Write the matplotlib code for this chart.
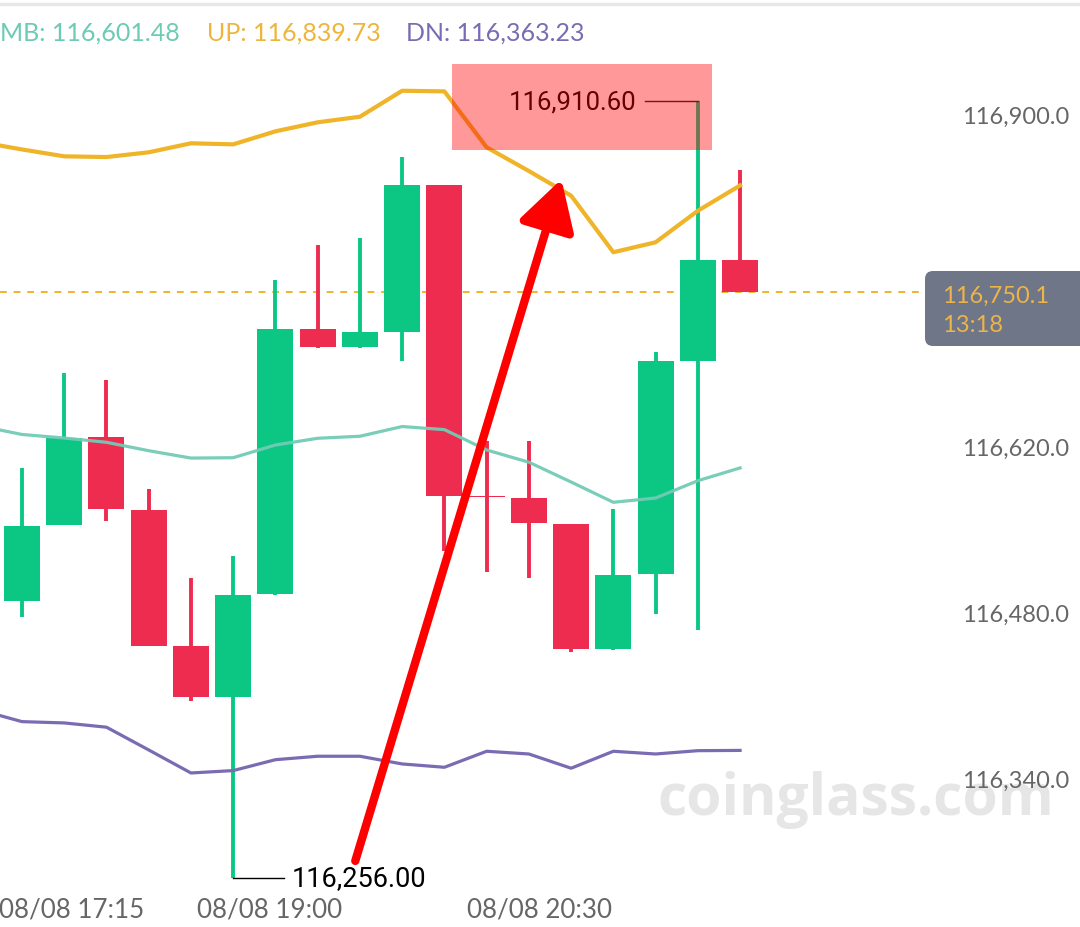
import matplotlib
matplotlib.use("Agg")
import matplotlib.pyplot as plt
from matplotlib.patches import Rectangle, FancyBboxPatch
from matplotlib.lines import Line2D
import matplotlib.ticker as mticker

plt.rcParams['font.family'] = ['Lato', 'DejaVu Sans']

# ---------------- data ----------------
opens = [116489.5, 116553.4, 116627.3, 116566.3, 116451.3, 116408.0, 116495.2, 116718.7, 116703.2,
         116716.4, 116840.1, 116577.6, 116575.9, 116554.0, 116448.8, 116512.3, 116692.0, 116776.9]
highs = [116601.4, 116681.6, 116675.9, 116583.7, 116508.7, 116527.5, 116760.3, 116789.5, 116795.7,
         116863.5, 116840.1, 116624.5, 116624.2, 116554.0, 116566.9, 116699.0, 116910.6, 116852.8]
lows = [116476.0, 116553.0, 116557.0, 116451.0, 116405.2, 116256.0, 116494.0, 116703.0, 116703.0,
        116692.0, 116531.7, 116513.5, 116508.7, 116446.0, 116448.0, 116478.3, 116464.8, 116750.1]
closes = [116552.8, 116627.0, 116566.6, 116451.6, 116408.0, 116494.3, 116718.7, 116703.2, 116715.9,
          116840.1, 116577.6, 116577.0, 116555.0, 116448.8, 116511.2, 116692.0, 116776.9, 116750.1]

band_x = list(range(-1, 18))
up_band = [116876.4, 116870.1, 116864.3, 116863.7, 116867.7, 116875.3, 116874.4, 116885.4, 116893.0,
           116897.7, 116919.6, 116919.1, 116871.9, 116851.9, 116831.1, 116783.4, 116791.8, 116818.4, 116839.73]
mb_band = [116636.9, 116629.7, 116626.7, 116623.1, 116616.0, 116609.8, 116610.1, 116620.8, 116626.5,
           116628.2, 116636.4, 116633.8, 116616.6, 116606.3, 116589.6, 116572.5, 116576.1, 116590.7, 116601.48]
dn_band = [116397.3, 116387.5, 116386.4, 116382.8, 116363.6, 116344.2, 116346.2, 116355.4, 116358.3,
           116358.3, 116351.8, 116349.0, 116362.5, 116360.2, 116348.2, 116362.5, 116360.2, 116363.0, 116363.23]

y_ticks = [116340, 116480, 116620, 116760, 116900]
x_tick_pos = [1.18, 5.86, 12.26]
x_tick_labels = ['08/08 17:15', '08/08 19:00', '08/08 20:30']

last_price = 116750.1
countdown = '13:18'
low_idx, low_value = 5, 116256.00
high_idx, high_value = 16, 116910.60
arrow_tail = (7.89, 116270.0)
arrow_tip = (12.77, 116845.0)
highlight_x = (10.19, 16.33)
highlight_y = (116869.6, 116942.2)

# ---------------- style ----------------
GREEN = '#0CC784'
RED = '#EE2C4F'
UPC = '#F0B429'
MBC = '#72CBB6'
DNC = '#7A6BB3'
TICKC = '#666666'

W, H = 1080, 928
fig = plt.figure(figsize=(W / 100, H / 100), dpi=100)
fig.patch.set_facecolor('white')
ax = fig.add_axes([0, 35 / H, 925 / W, 893 / H])
ax.set_xlim(-0.521, 21.378)
ax.set_ylim(116243.8, 116997.0)
for s in ax.spines.values():
    s.set_visible(False)

# watermark
ax.text(856 / W, 1 - 800 / H, 'coinglass.com', transform=fig.transFigure, fontsize=41,
        fontweight='bold', color='#E6E6E6', ha='center', va='center', zorder=0,
        family=['Open Sans', 'DejaVu Sans'])

# candles
for i, (o, h, l, c) in enumerate(zip(opens, highs, lows, closes)):
    col = GREEN if c > o else RED
    ax.vlines(i, l, h, color=col, lw=2.8, zorder=2)
    ax.bar(i, max(abs(c - o), 0.9), bottom=min(o, c), width=0.852, color=col, lw=0, zorder=2)

# bands
ax.plot(band_x, mb_band, color=MBC, lw=2.3, zorder=3, alpha=0.95)
ax.plot(band_x, up_band, color=UPC, lw=3.0, zorder=3)
ax.plot(band_x, dn_band, color=DNC, lw=2.3, zorder=3)

# last price dashed line
ax.axhline(last_price, color=UPC, lw=1.4, ls=(0, (3.5, 3.5)), zorder=1)

# low / high labels
ax.plot([low_idx, low_idx + 51 / 42.24], [low_value, low_value], color='black', lw=1.0, zorder=4)
ax.text(low_idx + 58 / 42.24, low_value, f'{low_value:,.2f}', color='black', fontsize=19.5,
        ha='left', va='center', zorder=4, family=['Roboto', 'DejaVu Sans'])
ax.plot([high_idx, high_idx - 53 / 42.24], [high_value, high_value], color='#222222', lw=1.0, zorder=4)
ax.text(high_idx - 61 / 42.24, high_value, f'{high_value:,.2f}', color='black', fontsize=18.5,
        ha='right', va='center', zorder=4, family=['Roboto', 'DejaVu Sans'])

# red arrow
ax.annotate('', xy=arrow_tip, xytext=arrow_tail,
            arrowprops=dict(arrowstyle='-|>,head_length=0.42,head_width=0.24', color='#FF0000',
                            lw=6, mutation_scale=72, shrinkA=0, shrinkB=0), zorder=6)

# highlight overlay
ax.add_patch(Rectangle((highlight_x[0], highlight_y[0]), highlight_x[1] - highlight_x[0],
                       highlight_y[1] - highlight_y[0], facecolor='#FF0000', alpha=0.4, lw=0, zorder=10))

# ticks
ax.yaxis.tick_right()
ax.set_yticks(y_ticks)
ax.yaxis.set_major_formatter(mticker.FuncFormatter(lambda v, p: f'{v:,.1f}'))
ax.tick_params(axis='y', length=0, pad=27, labelsize=17, labelcolor=TICKC)
ax.set_xticks(x_tick_pos)
ax.set_xticklabels(x_tick_labels)
ax.tick_params(axis='x', length=0, pad=3, labelsize=18.7, labelcolor=TICKC)

# price box
box = FancyBboxPatch((9.25, (H - 347) / 100), 1.7, 0.75,
                     boxstyle='round,pad=0,rounding_size=0.08', transform=fig.dpi_scale_trans,
                     facecolor='#6E7688', edgecolor='none', zorder=5)
fig.add_artist(box)
fig.text(942 / W, 1 - 296 / H, f'{last_price:,.1f}', color='#EDB449', fontsize=17, ha='left',
         va='center', zorder=6)
fig.text(942 / W, 1 - 325 / H, countdown, color='#EDB449', fontsize=17, ha='left',
         va='center', zorder=6)

# header
fig.text(0, 1 - 33 / H, f'MB: {mb_band[-1]:,.2f}', color='#6CCBB4', fontsize=18, ha='left', va='center')
fig.text(207 / W, 1 - 33 / H, f'UP: {up_band[-1]:,.2f}', color='#EDB63A', fontsize=18, ha='left', va='center')
fig.text(406 / W, 1 - 33 / H, f'DN: {dn_band[-1]:,.2f}', color='#7A6BB3', fontsize=18, ha='left', va='center')

# top separator
fig.add_artist(Line2D([0, 1], [1 - 5 / H, 1 - 5 / H], color='#E8E8E8', lw=2.5, transform=fig.transFigure))

fig.savefig('out.png', dpi=100, facecolor='white')
